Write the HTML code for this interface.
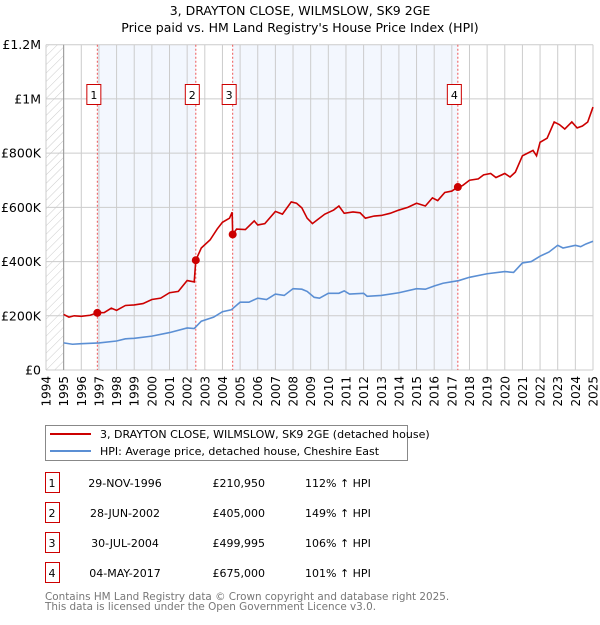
<!DOCTYPE html>
<html><head><meta charset="utf-8"><style>
body{margin:0;background:#fff;font-family:"Liberation Sans","DejaVu Sans",sans-serif;}
svg text{font-family:"DejaVu Sans","Liberation Sans",sans-serif;}
</style></head><body>
<svg id="c" width="600" height="620" xmlns="http://www.w3.org/2000/svg">
<text x="300" y="15" font-size="12.5" text-anchor="middle">3, DRAYTON CLOSE, WILMSLOW, SK9 2GE</text>
<text x="300" y="32" font-size="12.5" text-anchor="middle">Price paid vs. HM Land Registry's House Price Index (HPI)</text>
<defs><pattern id="hatch" width="6" height="6" patternUnits="userSpaceOnUse" patternTransform="rotate(45)"><line x1="0" y1="0" x2="0" y2="6" stroke="#ccc" stroke-width="1"/></pattern></defs>
<g id="plot"></g>
<g id="legend">
<rect x="45.5" y="425.5" width="362" height="35" fill="#fff" stroke="#888"/>
<line x1="50" y1="434" x2="91" y2="434" stroke="#cc0000" stroke-width="2"/>
<text x="100" y="438" font-size="11">3, DRAYTON CLOSE, WILMSLOW, SK9 2GE (detached house)</text>
<line x1="50" y1="451" x2="91" y2="451" stroke="#5b8fd4" stroke-width="2"/>
<text x="100" y="455" font-size="11">HPI: Average price, detached house, Cheshire East</text>
</g>
<g id="table"></g>
<text x="45" y="600" font-size="10.4" fill="#777">Contains HM Land Registry data © Crown copyright and database right 2025.</text>
<text x="45" y="610" font-size="10.4" fill="#777">This data is licensed under the Open Government Licence v3.0.</text>
</svg>
<script>
const redT=[1995.0,1995.3,1995.6,1996,1996.5,1996.91,1997.3,1997.7,1998,1998.5,1999,1999.5,2000,2000.5,2001,2001.5,2002,2002.4,2002.49,2002.8,2003.3,2003.7,2004,2004.4,2004.55,2004.58,2004.8,2005.3,2005.8,2006,2006.4,2007,2007.4,2007.9,2008.2,2008.5,2008.8,2009.1,2009.4,2009.8,2010.3,2010.6,2010.9,2011.4,2011.8,2012.1,2012.6,2013,2013.5,2014,2014.5,2015,2015.5,2015.9,2016.2,2016.6,2017,2017.34,2017.6,2018,2018.5,2018.8,2019.2,2019.5,2020,2020.3,2020.6,2021,2021.3,2021.6,2021.8,2022,2022.4,2022.8,2023.1,2023.4,2023.8,2024.1,2024.4,2024.7,2025];
const redV=[205,195,200,198,202,211,212,228,220,238,240,245,260,265,285,290,330,325,405,450,480,520,545,560,582,500,520,518,550,535,540,585,575,620,615,598,560,540,555,575,590,605,578,583,580,560,568,570,578,590,600,615,605,635,625,655,660,675,680,700,705,720,725,710,725,712,730,790,800,810,790,840,855,915,905,889,915,893,900,915,970];
const hpiT=[1995,1995.5,1996,1997,1998,1998.5,1999,2000,2001,2002,2002.4,2002.8,2003.5,2004,2004.5,2005,2005.5,2006,2006.5,2007,2007.5,2008,2008.5,2008.8,2009.2,2009.5,2010,2010.6,2010.9,2011.2,2012,2012.2,2013,2014,2015,2015.5,2016,2016.5,2017.4,2018,2019,2020,2020.5,2021,2021.5,2022,2022.5,2023,2023.3,2024,2024.3,2024.6,2025];
const hpiV=[100,95,97,100,107,115,117,125,138,155,153,180,195,215,222,250,250,265,260,280,275,300,298,290,268,265,283,283,292,280,283,272,275,285,300,298,310,320,330,342,355,363,360,395,400,420,435,460,450,460,455,465,475];
const saleLabels=["1","2","3","4"];
const saleT=[1996.91,2002.49,2004.58,2017.34];
const saleV=[210.95,405,499.995,675];
const saleDates=["29-NOV-1996","28-JUN-2002","30-JUL-2004","04-MAY-2017"];
const salePrices=["£210,950","£405,000","£499,995","£675,000"];
const salePct=["112% ↑ HPI","149% ↑ HPI","106% ↑ HPI","101% ↑ HPI"];
const yTicks=[0,200,400,600,800,1000,1200];
const yTickLabels=["£0","£200K","£400K","£600K","£800K","£1M","£1.2M"];
const xYears=[];for(let y=1994;y<=2025;y++)xYears.push(y);

const NS="http://www.w3.org/2000/svg";
const X0=46,X1=593,Y0=370,Y1=44.7;
const xs=t=>X0+(t-1994)/31*(X1-X0);
const ys=v=>Y0-v/1200*(Y0-Y1);
const g=document.getElementById('plot');
function mk(tag,at,parent){const e=document.createElementNS(NS,tag);for(const k in at)e.setAttribute(k,at[k]);(parent||g).appendChild(e);return e;}
let sh=mk('rect',{x:xs(saleT[0]),y:Y1,width:xs(saleT[1])-xs(saleT[0]),height:Y0-Y1,fill:'#eef3fd',opacity:0.7});


let sh2=mk('rect',{x:xs(saleT[2]),y:Y1,width:xs(saleT[3])-xs(saleT[2]),height:Y0-Y1,fill:'#eef3fd',opacity:0.7});


let ht=mk('rect',{x:X0,y:Y1,width:xs(1995)-X0,height:Y0-Y1,fill:'url(#hatch)'});


xYears.forEach(y=>{const l=mk('line',{x1:xs(y),x2:xs(y),y1:Y1,y2:Y0,stroke:'#ccc','stroke-width':1});


const t=mk('text',{x:0,y:0,'font-size':12,'text-anchor':'end',transform:`translate(${xs(y)+4.5},376) rotate(-90)`});t.textContent=y;

});
yTicks.forEach((v,i)=>{const l=mk('line',{x1:X0,x2:X1,y1:ys(v),y2:ys(v),stroke:'#ccc','stroke-width':1});


const t=mk('text',{x:41,y:ys(v)+4.5,'font-size':12.5,'text-anchor':'end'});t.textContent=yTickLabels[i];

});
let ax=mk('line',{x1:xs(1995),x2:xs(1995),y1:Y1,y2:Y0,stroke:'#999'});


saleT.forEach((t,i)=>{const l=mk('line',{x1:xs(t),x2:xs(t),y1:Y1,y2:Y0,stroke:'#ee5555','stroke-dasharray':'2,2','stroke-width':1});


const r=mk('rect',{x:xs(t)-10.5,y:84.5,width:14,height:20,fill:'#fff',stroke:'#cc0000'});


const tx=mk('text',{x:xs(t)-3.5,y:99,'font-size':11,'text-anchor':'middle'});tx.textContent=saleLabels[i];

});
function line(T,V,c,n){const p=mk('polyline',{points:T.map((t,i)=>xs(t)+','+ys(V[i])).join(' '),fill:'none',stroke:c,'stroke-width':1.6});

}
line(hpiT,hpiV,'#5b8fd4','hpi-line');
line(redT,redV,'#cc0000','price-paid-line');
saleT.forEach((t,i)=>{const c=mk('circle',{cx:xs(t),cy:ys(saleV[i]),r:4,fill:'#cc0000'});

});
const tb=document.getElementById('table');
saleLabels.forEach((s,i)=>{const y=483+30*i;
const r=mk('rect',{x:45.5,y:y-10.5,width:14,height:20,fill:'#fff',stroke:'#cc0000'},tb);


const cells=[[52,s,'middle'],[125,saleDates[i],'middle'],[265,salePrices[i],'end'],[305,salePct[i],'start']];
cells.forEach(c=>{const t=mk('text',{x:c[0],y:y+4,'font-size':11,'text-anchor':c[2]},tb);t.textContent=c[1];

});});
</script>
</body></html>
